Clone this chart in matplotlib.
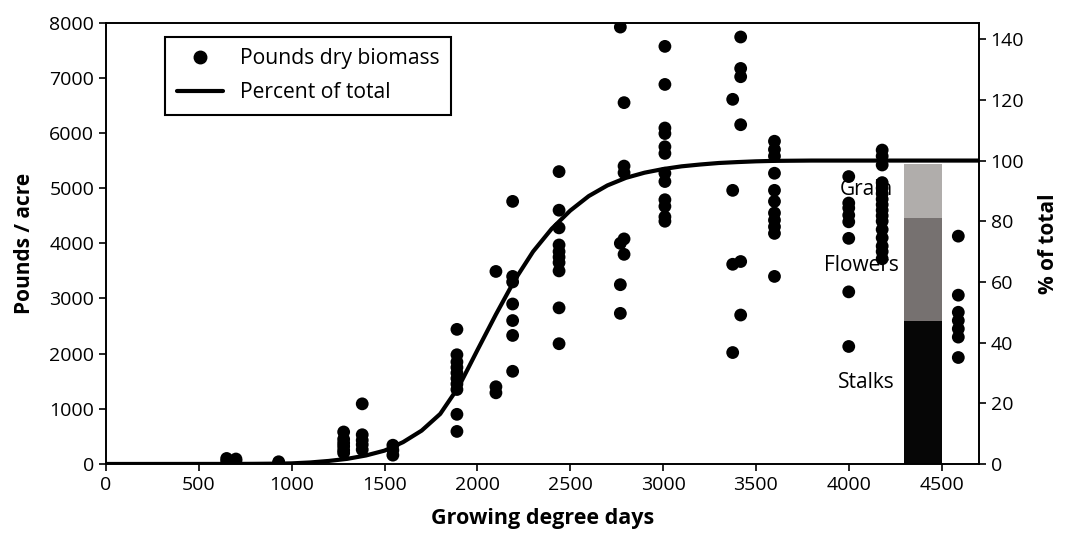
import matplotlib
matplotlib.use("Agg")
import matplotlib.pyplot as plt
from matplotlib.lines import Line2D

plt.rcParams['font.family'] = ['Open Sans', 'DejaVu Sans']

# Field samples: growing degree days and pounds of dry biomass per acre
gdd_samples = (
    [650] * 2 + [700] * 2 + [930] * 2
    + [1280] * 6 + [1380] * 5 + [1545] * 3
    + [1890] * 10 + [2100] * 3 + [2190] * 7
    + [2440] * 10 + [2770] * 4 + [2790] * 5
    + [3010] * 12 + [3375] * 4 + [3418] * 6
    + [3600] * 11 + [4000] * 8 + [4180] * 16 + [4590] * 7
)
biomass_lbs = (
    [100, 50] + [90, 60] + [20, 40]
    + [580, 450, 380, 320, 250, 200]
    + [1090, 530, 430, 350, 260]
    + [340, 250, 160]
    + [2440, 1980, 1850, 1750, 1650, 1550, 1450, 1350, 900, 590]
    + [3490, 1400, 1290]
    + [4760, 3400, 3300, 2900, 2600, 2330, 1680]
    + [5300, 4600, 4280, 3970, 3850, 3750, 3650, 3500, 2830, 2180]
    + [7920, 4000, 3250, 2730]
    + [6550, 5400, 5280, 4080, 3800]
    + [7570, 6880, 6090, 5990, 5750, 5630, 5270, 5120, 4790, 4670, 4480, 4400]
    + [6610, 4960, 3620, 2020]
    + [7740, 7170, 7020, 6150, 3670, 2700]
    + [5850, 5700, 5580, 5270, 4960, 4760, 4550, 4420, 4300, 4180, 3400]
    + [5210, 4730, 4640, 4510, 4390, 4090, 3120, 2130]
    + [5690, 5580, 5420, 5100, 5000, 4900, 4800, 4700, 4600, 4500, 4400,
       4250, 4100, 3950, 3850, 3720]
    + [4130, 3060, 2750, 2600, 2450, 2300, 1930]
)

# Accumulated biomass as percent of final total
curve_gdd = [0, 700, 800, 900, 1000, 1100, 1200, 1300, 1400, 1500, 1600,
             1700, 1800, 1900, 2000, 2100, 2200, 2300, 2400, 2500, 2600,
             2700, 2800, 2900, 3000, 3100, 3200, 3300, 3400, 3500, 3600,
             3800, 4700]
curve_pct = [0, 0.02, 0.05, 0.1, 0.2, 0.5, 1.0, 1.7, 2.8, 4.4, 7.2,
             11.0, 16.5, 25.5, 37.5, 49.3, 60.5, 70.0, 77.5, 83.5, 88.3,
             91.8, 94.3, 96.0, 97.2, 98.1, 98.7, 99.2, 99.5, 99.75, 99.9,
             100, 100]

# Composition of the mature crop (percent of total)
parts = ['Stalks', 'Flowers', 'Grain']
part_pct = [47, 34, 18]
part_colors = ['#060606', '#767170', '#b0adab']
bar_gdd = 4400
label_pos = {'Grain': (4094, 90.3), 'Flowers': (4069, 65.3), 'Stalks': (4096, 27.0)}

fig = plt.figure(figsize=(10.65, 5.33), dpi=100)
ax = fig.add_axes([0.0995, 0.1295, 0.8195, 0.828])
ax2 = ax.twinx()
ax.set_zorder(ax2.get_zorder() + 1)
ax.patch.set_visible(False)

# Stacked composition bar
bottom = 0
for name, pct, col in zip(parts, part_pct, part_colors):
    ax2.bar(bar_gdd, pct, width=200, bottom=bottom, color=col, zorder=1)
    bottom += pct
for name in parts:
    x, y = label_pos[name]
    ax2.text(x, y, name, ha='center', va='center', fontsize=15, zorder=2)

ax2.plot(curve_gdd, curve_pct, color='black', lw=3, solid_joinstyle='round',
         solid_capstyle='round', zorder=3)

ax.scatter(gdd_samples, biomass_lbs, s=85, color='black', zorder=3,
           edgecolors='none')

ax.set_xlim(0, 4700)
ax.set_ylim(0, 8000)
ax2.set_ylim(0, 8000 / 55)
ax.set_xticks(range(0, 4501, 500))
ax.set_yticks(range(0, 8001, 1000))
ax2.set_yticks(range(0, 141, 20))

for a in (ax, ax2):
    a.tick_params(labelsize=14, length=5, width=1.2, direction='out')
    for s in a.spines.values():
        s.set_linewidth(1.2)

ax.set_xlabel('Growing degree days', fontsize=15.5, fontweight='bold', labelpad=10)
ax.set_ylabel('Pounds / acre', fontsize=15, fontweight='bold', labelpad=10)
ax2.set_ylabel('% of total', fontsize=15, fontweight='bold', labelpad=10)

handles = [
    Line2D([], [], marker='o', ls='none', color='black', markersize=9),
    Line2D([], [], color='black', lw=3, solid_capstyle='round'),
]
leg = ax.legend(handles, ['Pounds dry biomass', 'Percent of total'],
                loc='upper left', bbox_to_anchor=(0.0676, 0.968),
                borderaxespad=0, fontsize=15.2, fancybox=False,
                edgecolor='black', framealpha=1, handlelength=2.2,
                handletextpad=0.8, borderpad=0.55, labelspacing=0.6)
leg.get_frame().set_linewidth(1.5)

fig.savefig('out.png', dpi=100)
